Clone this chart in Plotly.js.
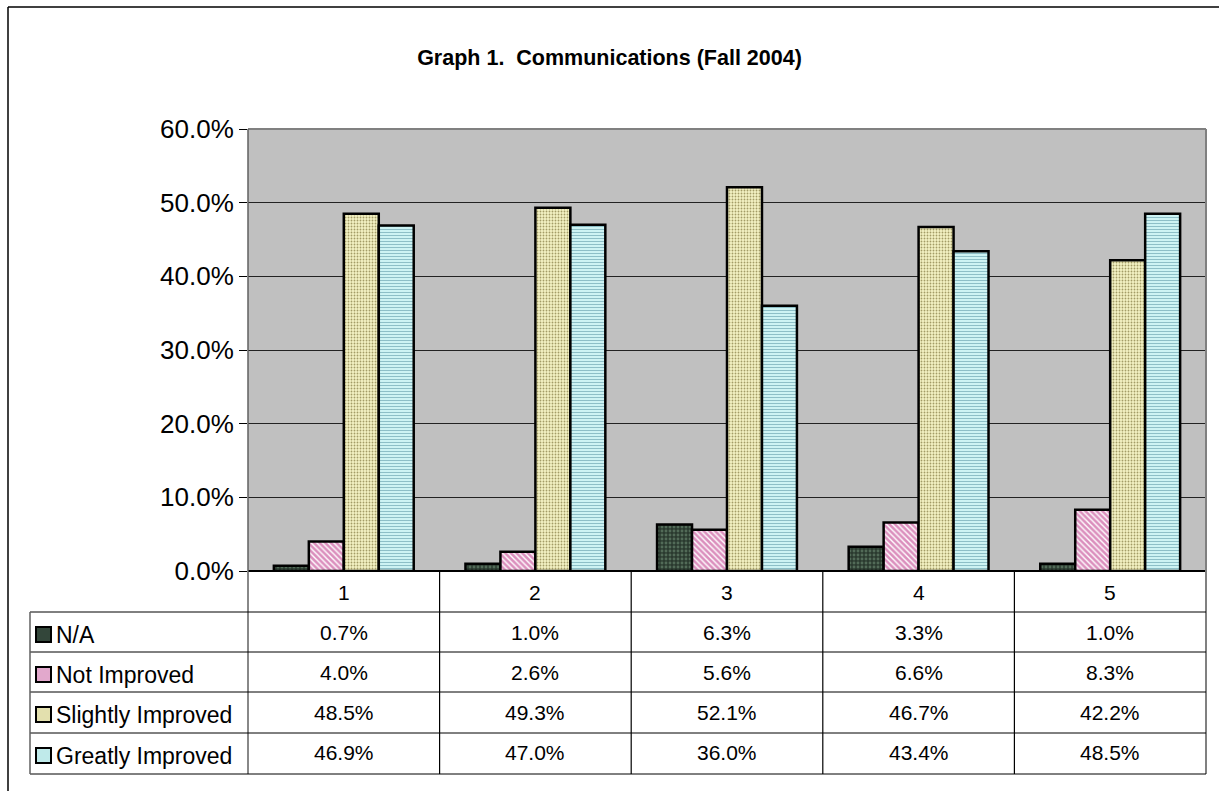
<!DOCTYPE html>
<html>
<head>
<meta charset="utf-8">
<script src="https://cdn.plot.ly/plotly-3.0.1.min.js"></script>
<style>html,body{margin:0;padding:0;background:#fff;}#chart{width:1219px;height:791px;}</style>
</head>
<body>
<div id="chart"></div>
<script>
// ---- data ----
const categories = [1, 2, 3, 4, 5];
const seriesNames = ["N/A", "Not Improved", "Slightly Improved", "Greatly Improved"];
const naValues = [0.007, 0.010, 0.063, 0.033, 0.010];
const notImprovedValues = [0.040, 0.026, 0.056, 0.066, 0.083];
const slightlyValues = [0.485, 0.493, 0.521, 0.467, 0.422];
const greatlyValues = [0.469, 0.470, 0.360, 0.434, 0.485];
const titleText = "Graph 1.\u00a0 Communications (Fall 2004)";

const allValues = [naValues, notImprovedValues, slightlyValues, greatlyValues];

// ---- styles ----
const FONT = "Arial, 'Liberation Sans', sans-serif";
const W = 1219, H = 791;
const M = {l: 248, r: 13, t: 129, b: 220};
const plotW = W - M.l - M.r, plotH = H - M.t - M.b;
const xp = px => (px - M.l) / plotW;
const yp = py => (H - M.b - py) / plotH;

const patterns = [
  {bg: "#2A3A2F", fg: "#526B58", shape: ".", size: 4, solidity: 0.4},
  {bg: "#DB8FBD", fg: "#FFFFFF", shape: "\\", size: 4, solidity: 0.35},
  {bg: "#F4F2C4", fg: "#A39C66", shape: ".", size: 3, solidity: 0.3},
  {bg: "#CDF3F3", fg: "#86B9C2", shape: "-", size: 3, solidity: 0.3}
];
const keyColors = ["#33463A", "#E2A8CC", "#E3E0AE", "#BFEAEA"];

const traces = seriesNames.map((name, i) => ({
  type: "bar",
  name: name,
  x: categories,
  y: allValues[i],
  marker: {
    color: patterns[i].bg,
    line: {color: "#000", width: 2.5},
    pattern: {shape: patterns[i].shape, fgcolor: patterns[i].fg, bgcolor: patterns[i].bg,
              size: patterns[i].size, solidity: patterns[i].solidity, fillmode: "replace"}
  },
  hoverinfo: "skip"
}));

// ---- table ----
const rowLines = [612, 652, 692, 733, 774];
const rowCenters = [632, 672, 712, 753];
const headerCenter = 592;
const shapes = [];
const annotations = [];

// outer frame (only top and left edges are visible)
shapes.push({type: "line", xref: "paper", yref: "paper", x0: xp(8), x1: xp(1225), y0: yp(7), y1: yp(7),
  line: {color: "#000", width: 1.5}});
shapes.push({type: "line", xref: "paper", yref: "paper", x0: xp(8), x1: xp(8), y0: yp(7), y1: yp(795),
  line: {color: "#000", width: 1.5}});
// plot area border (top/right gray)
shapes.push({type: "line", xref: "paper", yref: "paper", x0: 0, x1: 1, y0: 1, y1: 1, line: {color: "#808080", width: 2}});
shapes.push({type: "line", xref: "paper", yref: "paper", x0: 1, x1: 1, y0: 1, y1: yp(774), line: {color: "#808080", width: 2}});
// left of plot extending through table
shapes.push({type: "line", xref: "paper", yref: "paper", x0: 0, x1: 0, y0: 1, y1: yp(774), line: {color: "#606060", width: 1.5}});
// horizontal table lines
rowLines.forEach(py => shapes.push({type: "line", xref: "paper", yref: "paper", x0: xp(30), x1: 1, y0: yp(py), y1: yp(py), line: {color: "#000", width: 1}}));
// left edge of label column
shapes.push({type: "line", xref: "paper", yref: "paper", x0: xp(30), x1: xp(30), y0: yp(612), y1: yp(774), line: {color: "#606060", width: 1.5}});
// column separators, between categories
for (let k = 0; k < categories.length - 1; k++) {
  const xv = (categories[k] + categories[k + 1]) / 2;
  shapes.push({type: "line", xref: "x", yref: "paper", x0: xv, x1: xv, y0: 0, y1: yp(774), line: {color: "#000", width: 1.2}});
}
// header row labels
categories.forEach(c => annotations.push({xref: "x", yref: "paper", x: c, y: yp(headerCenter), text: String(c),
  showarrow: false, font: {family: FONT, size: 21, color: "#000"}, xanchor: "center", yanchor: "middle"}));
// rows
seriesNames.forEach((name, i) => {
  const cy = rowCenters[i];
  shapes.push({type: "rect", xref: "paper", yref: "paper", x0: xp(36), x1: xp(51), y0: yp(cy - 5), y1: yp(cy + 10),
    line: {color: "#000", width: 2}, fillcolor: keyColors[i]});
  annotations.push({xref: "paper", yref: "paper", x: xp(54), y: yp(cy + 3), text: name, showarrow: false,
    font: {family: FONT, size: 23, color: "#000"}, xanchor: "left", yanchor: "middle"});
  categories.forEach((c, j) => annotations.push({xref: "x", yref: "paper", x: c, y: yp(cy),
    text: (allValues[i][j] * 100).toFixed(1) + "%", showarrow: false,
    font: {family: FONT, size: 21, color: "#000"}, xanchor: "center", yanchor: "middle"}));
});

const layout = {
  width: W, height: H,
  margin: M,
  paper_bgcolor: "#fff",
  plot_bgcolor: "#C0C0C0",
  showlegend: false,
  barmode: "group",
  bargap: 0.27,
  bargroupgap: 0,
  title: {text: "<b>" + titleText + "</b>", font: {family: FONT, size: 21.5, color: "#000"},
          xref: "container", x: 0.5, xanchor: "center", yref: "container", y: 1 - 57 / H, yanchor: "middle"},
  xaxis: {range: [0.5, 5.5], showticklabels: false, ticks: "", showgrid: false, zeroline: false,
          showline: false, fixedrange: true},
  yaxis: {range: [0, 0.6], dtick: 0.1, tickformat: ".1%", ticks: "outside", ticklen: 8, tickcolor: "#000",
          tickwidth: 1, showgrid: true, gridcolor: "#222", gridwidth: 1, zeroline: true, zerolinecolor: "#000",
          zerolinewidth: 1.5, showline: false, tickfont: {family: FONT, size: 26, color: "#000"}, fixedrange: true},
  shapes: shapes,
  annotations: annotations
};

Plotly.newPlot("chart", traces, layout, {displayModeBar: false, staticPlot: true});
</script>
</body>
</html>
